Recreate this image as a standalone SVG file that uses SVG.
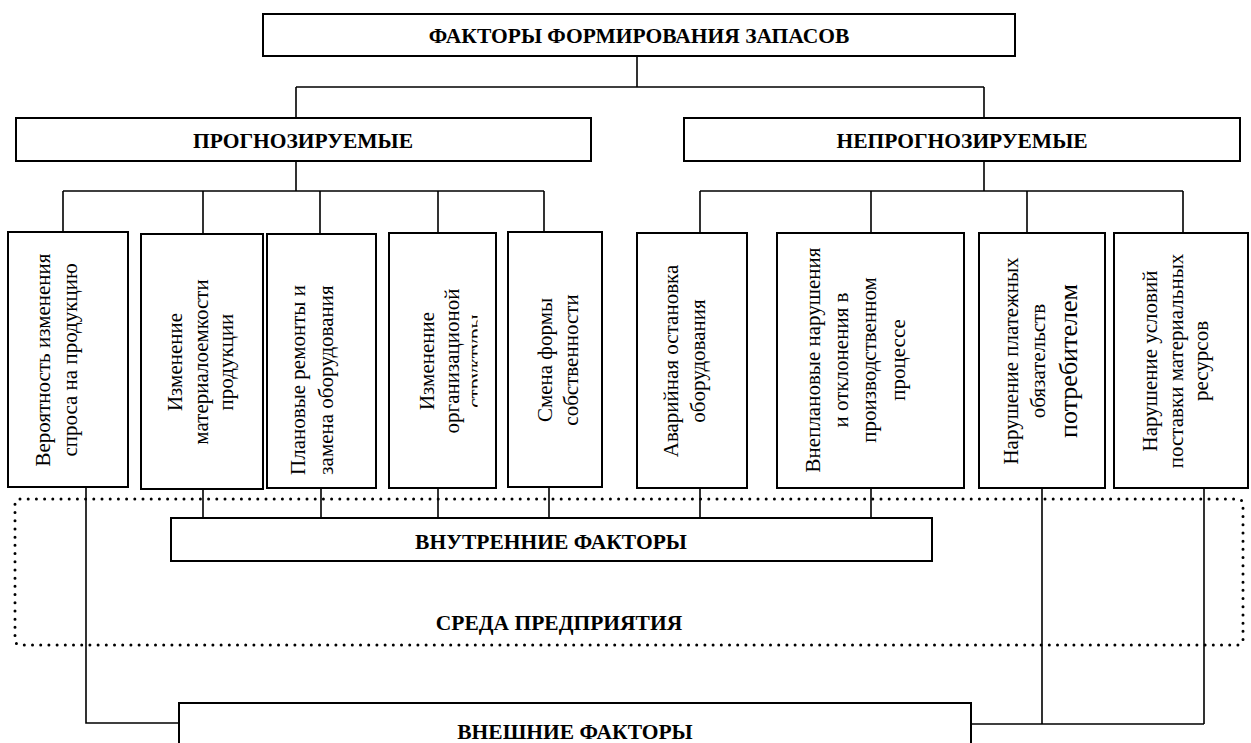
<svg xmlns="http://www.w3.org/2000/svg" width="1251" height="743" viewBox="0 0 1251 743">
<defs>
<style>
.box{fill:#fff;stroke:#000;stroke-width:2}
.ln{fill:none;stroke:#000;stroke-width:1.6}
.hd{font-family:"Liberation Serif","Times New Roman",serif;font-weight:bold;font-size:21.5px;text-anchor:middle;fill:#000}
.vt{font-family:"Liberation Serif","Times New Roman",serif;font-size:21px;text-anchor:middle;fill:#000}
.dot{fill:none;stroke:#000;stroke-width:3;stroke-dasharray:0 8.2;stroke-linecap:round}
</style>
<clipPath id="clip4"><rect x="389" y="233" width="88.5" height="255"/></clipPath>
</defs>
<rect class="dot" x="15" y="499" width="1228" height="146" rx="5"/>
<g id="connectors">
<path class="ln" d="M637 56V87M296 87H984M296 87V118M984 87V118"/>
<path class="ln" d="M296 161V191M63 191H544M63 191V232M203 191V234M320 191V234M438 191V233M544 191V232"/>
<path class="ln" d="M984 161V191M700 191H1183M700 191V233M871 191V233M1027 191V233M1183 191V233"/>
<path class="ln" d="M203 489V518M321 488V518M438 488V518M549 487V518M700 488V518M871 488V518"/>
<path class="ln" d="M86 487V723H179"/>
<path class="ln" d="M971 724H1204M1042 488V724M1204 488V724"/>
</g>
<g id="n-top"><rect class="box" x="263" y="14" width="752" height="42"/><text class="hd" x="639" y="43">ФАКТОРЫ ФОРМИРОВАНИЯ ЗАПАСОВ</text></g>
<g id="n-prog"><rect class="box" x="16" y="118" width="575" height="43"/><text class="hd" x="303" y="148">ПРОГНОЗИРУЕМЫЕ</text></g>
<g id="n-neprog"><rect class="box" x="684" y="118" width="556" height="43"/><text class="hd" x="962" y="148">НЕПРОГНОЗИРУЕМЫЕ</text></g>
<g id="n1"><rect class="box" x="8" y="232" width="120" height="255"/>
<text class="vt" transform="translate(0 360) rotate(-90)"><tspan x="0" y="50">Вероятность изменения</tspan><tspan x="0" y="77">спроса на продукцию</tspan></text></g>
<g id="n2"><rect class="box" x="141" y="234" width="122" height="255"/>
<text class="vt" transform="translate(0 362) rotate(-90)"><tspan x="0" y="182">Изменение</tspan><tspan x="0" y="208">материалоемкости</tspan><tspan x="0" y="233">продукции</tspan></text></g>
<g id="n3"><rect class="box" x="267" y="234" width="109" height="254"/>
<text class="vt" transform="translate(0 380) rotate(-90)"><tspan x="0" y="305">Плановые ремонты и</tspan><tspan x="0" y="333">замена оборудования</tspan></text></g>
<g id="n4"><rect class="box" x="389" y="233" width="107" height="255"/>
<g clip-path="url(#clip4)"><text class="vt" transform="translate(0 361) rotate(-90)"><tspan x="0" y="434">Изменение</tspan><tspan x="0" y="459">организационой</tspan><tspan x="0" y="482">структуры</tspan></text></g></g>
<g id="n5"><rect class="box" x="508" y="232" width="94" height="255"/>
<text class="vt" transform="translate(0 360) rotate(-90)"><tspan x="0" y="552">Смена формы</tspan><tspan x="0" y="578">собственности</tspan></text></g>
<g id="n6"><rect class="box" x="637" y="233" width="110" height="255"/>
<text class="vt" transform="translate(0 361) rotate(-90)"><tspan x="0" y="678">Аварийная остановка</tspan><tspan x="0" y="705">оборудования</tspan></text></g>
<g id="n7"><rect class="box" x="777" y="233" width="187" height="255"/>
<text class="vt" transform="translate(0 360) rotate(-90)"><tspan x="0" y="820">Внеплановые нарушения</tspan><tspan x="0" y="848">и отклонения в</tspan><tspan x="0" y="876">производственном</tspan><tspan x="0" y="905">процессе</tspan></text></g>
<g id="n8"><rect class="box" x="979" y="233" width="126" height="255"/>
<text class="vt" transform="translate(0 361) rotate(-90)"><tspan x="0" y="1018">Нарушение платежных</tspan><tspan x="0" y="1045">обязательств</tspan><tspan x="0" y="1077" font-size="26">потребителем</tspan></text></g>
<g id="n9"><rect class="box" x="1114" y="233" width="134" height="255"/>
<text class="vt" transform="translate(0 361) rotate(-90)"><tspan x="0" y="1157">Нарушение условий</tspan><tspan x="0" y="1183">поставки материальных</tspan><tspan x="0" y="1208">ресурсов</tspan></text></g>
<g id="n-inner"><rect class="box" x="171" y="518" width="761" height="43"/><text class="hd" x="551" y="549">ВНУТРЕННИЕ ФАКТОРЫ</text></g>
<g id="n-env"><text class="hd" x="559" y="630">СРЕДА ПРЕДПРИЯТИЯ</text></g>
<g id="n-outer"><rect class="box" x="179" y="703" width="792" height="50"/><text class="hd" x="575" y="739">ВНЕШНИЕ ФАКТОРЫ</text></g>
</svg>
